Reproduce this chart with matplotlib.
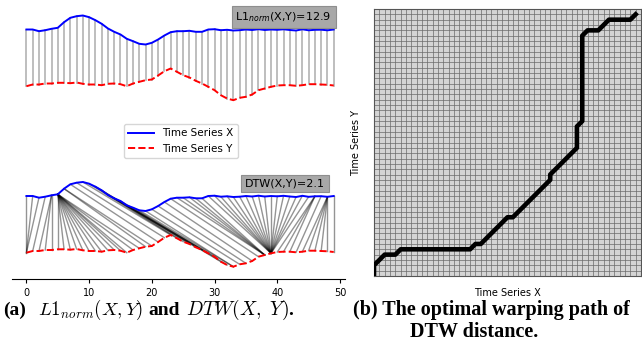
import numpy as np
import matplotlib
matplotlib.use('Agg')
import matplotlib.pyplot as plt

# ---------------- data ----------------
t = np.arange(50)
series_x = [0.00, 0.00, -0.17, -0.07, 0.07, 0.17, 0.73, 1.17, 1.33, 1.40,
            1.23, 0.93, 0.57, 0.10, -0.23, -0.50, -0.93, -1.17, -1.43, -1.50,
            -1.33, -1.00, -0.60, -0.27, -0.17, -0.17, -0.13, -0.23, -0.23, 0.00,
            0.03, -0.07, -0.03, -0.10, -0.07, 0.00, -0.05, 0.03, -0.05, 0.00,
            -0.03, 0.02, -0.05, -0.10, 0.02, -0.08, -0.03, -0.02, -0.08, 0.00]
series_y = [-0.17, 0.00, 0.00, 0.10, 0.10, 0.17, 0.17, 0.13, 0.20, 0.07,
            0.00, 0.00, -0.07, 0.07, 0.10, 0.03, -0.17, 0.10, 0.27, 0.43,
            0.50, 0.90, 1.33, 1.60, 1.27, 0.93, 0.70, 0.37, 0.10, -0.23,
            -0.57, -1.07, -1.40, -1.57, -1.33, -1.23, -1.00, -0.57, -0.40, -0.23,
            -0.10, -0.07, -0.07, -0.13, -0.07, 0.03, 0.03, 0.00, -0.03, -0.10]
# warping path vertices (grid column, grid row)
path_cols = [0, 0, 2, 4, 5, 18, 19, 20, 25, 26, 33, 33, 38, 38, 39, 39, 40, 42, 44, 48, 49]
path_rows = [0, 2, 4, 4, 5, 5, 6, 6, 11, 11, 18, 19, 24, 28, 29, 45, 46, 46, 48, 48, 49]
l1_label = r'L1$_{norm}$(X,Y)=12.9'
dtw_label = 'DTW(X,Y)=2.1'
xticks = [0, 10, 20, 30, 40, 50]
legend_labels = ['Time Series X', 'Time Series Y']
caption_a_parts = ['(a)', r'$L1_{norm}(X,Y)$', 'and', r'$DTW(X,\ Y)$.']
caption_b1 = '(b) The optimal warping path of'
caption_b2 = 'DTW distance.'

# expand path vertices into unit steps
pairs = []
for k in range(len(path_cols) - 1):
    c0, r0, c1, r1 = path_cols[k], path_rows[k], path_cols[k + 1], path_rows[k + 1]
    n = max(abs(c1 - c0), abs(r1 - r0))
    for s in range(n):
        pairs.append((r0 + s * np.sign(r1 - r0), c0 + s * np.sign(c1 - c0)))
pairs.append((path_rows[-1], path_cols[-1]))

sx = np.array(series_x)
sy = np.array(series_y)

fig = plt.figure(figsize=(6.42, 3.56), dpi=100)

# ---------------- left panel ----------------
ax = fig.add_axes([12 / 642, 77 / 356, 333 / 642, 276 / 356])
gap = 5.5
top = 16.65
# top: point-wise (L1) alignment
for i in t:
    ax.plot([i, i], [sx[i] + gap + top, sy[i] + top], color='#b3b3b3', lw=1.2, zorder=1)
l1, = ax.plot(t, sx + gap + top, color='b', lw=1.4, zorder=3)
l2, = ax.plot(t, sy + top, color='r', ls='--', lw=1.4, zorder=3)
# bottom: DTW alignment
for (i, j) in pairs:
    ax.plot([i, j], [sx[i] + gap, sy[j]], color='k', alpha=0.42, lw=1.0, zorder=1)
ax.plot(t, sx + gap, color='b', lw=1.4, zorder=3)
ax.plot(t, sy, color='r', ls='--', lw=1.4, zorder=3)

box = dict(boxstyle='square,pad=0.35', facecolor='#a8a8a8', edgecolor='#8e8e8e', lw=0.8)
ax.text(41.0, 23.4, l1_label, fontsize=8, ha='center', va='center', bbox=box,
        math_fontfamily='dejavusans', zorder=5)
ax.text(41.2, 6.75, dtw_label, fontsize=8, ha='center', va='center', bbox=box, zorder=5)

ax.legend([l1, l2], legend_labels, loc='center', bbox_to_anchor=(0.5075, 0.5),
          fontsize=7.5, handlelength=2.5)
ax.set_xlim(-2.3, 50.8)
ax.set_ylim(-2.8, 24.8)
ax.set_xticks(xticks)
ax.tick_params(axis='x', labelsize=7, length=3)
ax.set_yticks([])
for s in ['left', 'top', 'right']:
    ax.spines[s].set_visible(False)

# ---------------- right panel ----------------
ax2 = fig.add_axes([374 / 642, 80 / 356, 267 / 642, 267 / 356])
ax2.set_facecolor('#d4d4d4')
ax2.set_xlim(0, 50)
ax2.set_ylim(0, 50)
ax2.set_xticks(np.arange(51))
ax2.set_yticks(np.arange(51))
ax2.grid(True, color='#6a6a6a', lw=0.5)
ax2.set_axisbelow(True)
ax2.tick_params(length=0, labelbottom=False, labelleft=False)
for s in ax2.spines.values():
    s.set_color('#555555')
ax2.plot(path_cols, path_rows, color='k', lw=3.3, solid_capstyle='projecting', zorder=3)
ax2.set_xlabel('Time Series X', fontsize=7, labelpad=9)
ax2.set_ylabel('Time Series Y', fontsize=7, labelpad=9)

# ---------------- captions ----------------
cap = dict(fontweight='bold', family='Liberation Serif', math_fontfamily='cm',
           va='baseline', ha='left')
y1 = 1 - 315 / 356
y2 = 1 - 337 / 356
for xpos, part, fs in zip([3, 38, 148, 186], caption_a_parts, [14, 13.5, 14, 14]):
    fig.text(xpos / 642, y1, part, fontsize=fs, **cap)
fig.text(353 / 642, y1, caption_b1, fontsize=14.5, **cap)
fig.text(410 / 642, y2, caption_b2, fontsize=14.5, **cap)

fig.savefig('out.png', dpi=100)
